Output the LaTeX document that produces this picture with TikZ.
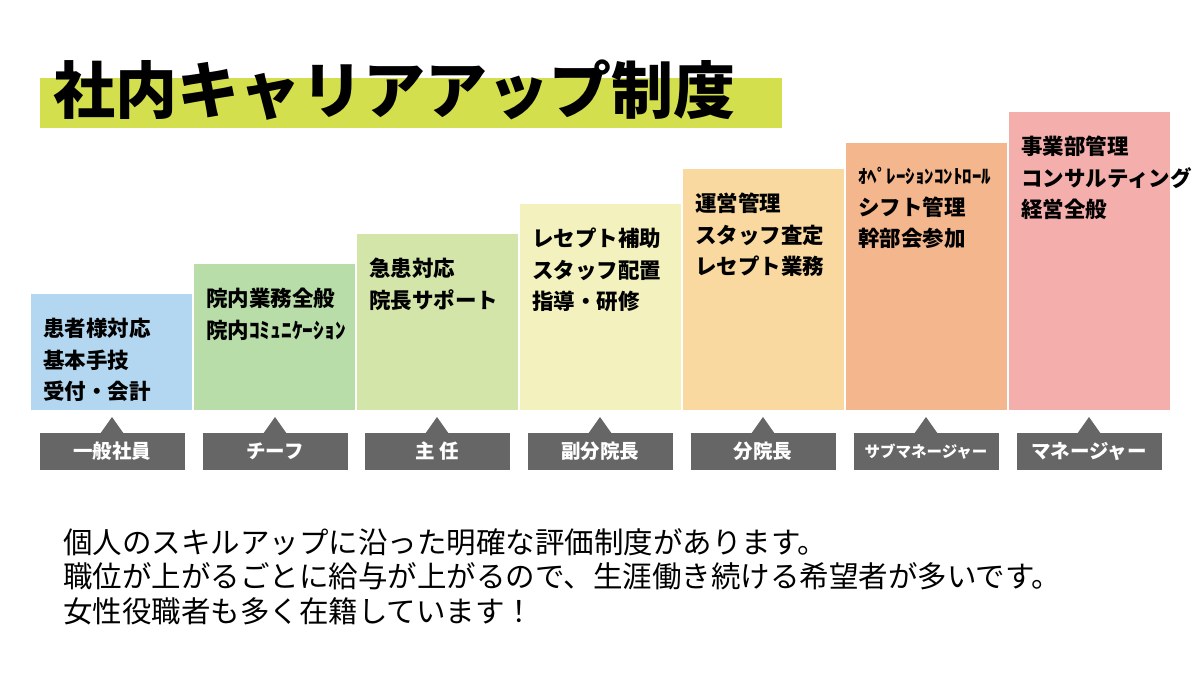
\documentclass[tikz,border=0pt]{standalone}
\usepackage{fontspec}
\setmainfont{Noto Sans CJK JP}
\begin{document}
\begin{tikzpicture}[x=1pt,y=-1pt,
  lbl/.style={fill=black!60,text=white,minimum width=145pt,minimum height=37pt,inner sep=0pt,font=\fontsize{19.5}{19.5}\selectfont\bfseries},
  coltext/.style={anchor=north west,align=left,font=\fontsize{21.5}{31.5}\selectfont\bfseries,inner sep=0pt}]
\useasboundingbox (0,0) rectangle (1200,675);
\fill[white] (0,0) rectangle (1200,675);
% title
\fill[fill={rgb,255:red,212;green,223;blue,78}] (40,78) rectangle (782,128);
\node[anchor=west,inner sep=0pt,font=\fontsize{62}{62}\selectfont\bfseries] (title) at (53,90) {社内キャリアアップ制度};
% columns
\foreach \x/\t/\c/\n in {31/294/B3D7F0/c1, 194/264/B8DDA8/c2, 357/234/D3E5A8/c3, 520/204/F3F2BE/c4, 683/169/F9D9A0/c5, 846/143/F4B68C/c6, 1009/112/F4AFAC/c7} {
  \definecolor{tmp}{HTML}{\c}
  \fill[tmp] (\x,\t) rectangle ++(161,410-\t);
  \coordinate (\n) at (\x+12,\t+24);
}
\node[coltext] (t1) at (c1) {患者様対応\\基本手技\\受付・会計};
\node[coltext] (t2) at (c2) {院内業務全般\\院内ｺﾐｭﾆｹｰｼｮﾝ};
\node[coltext] (t3) at (c3) {急患対応\\院長サポート};
\node[coltext] (t4) at (c4) {レセプト補助\\スタッフ配置\\指導・研修};
\node[coltext] (t5) at (c5) {運営管理\\スタッフ査定\\レセプト業務};
\node[coltext] (t6) at (c6) {{\fontsize{19}{19}\selectfont ｵﾍﾟﾚｰｼｮﾝｺﾝﾄﾛｰﾙ}\\シフト管理\\幹部会参加};
\node[coltext] (t7) at (c7) {事業部管理\\コンサルティング\\経営全般};
% labels
\foreach \cx/\txt/\n in {112/一般社員/l1, 275/チーフ/l2, 437/主 任/l3, 600/副分院長/l4, 763/分院長/l5, 926/{\fontsize{15.5}{15}\selectfont サブマネージャー}/l6, 1089/マネージャー/l7} {
  \node[lbl] (\n) at (\cx,451.5) {\txt};
  \fill[black!60] (\cx-12,434) -- (\cx,417) -- (\cx+12,434) -- cycle;
}
% bottom text
\node[anchor=north west,align=left,inner sep=0pt,font=\fontsize{29.5}{34.5}\selectfont] (desc) at (63,528) {個人のスキルアップに沿った明確な評価制度があります。\\職位が上がるごとに給与が上がるので、生涯働き続ける希望者が多いです。\\女性役職者も多く在籍しています！};
\end{tikzpicture}
\end{document}
